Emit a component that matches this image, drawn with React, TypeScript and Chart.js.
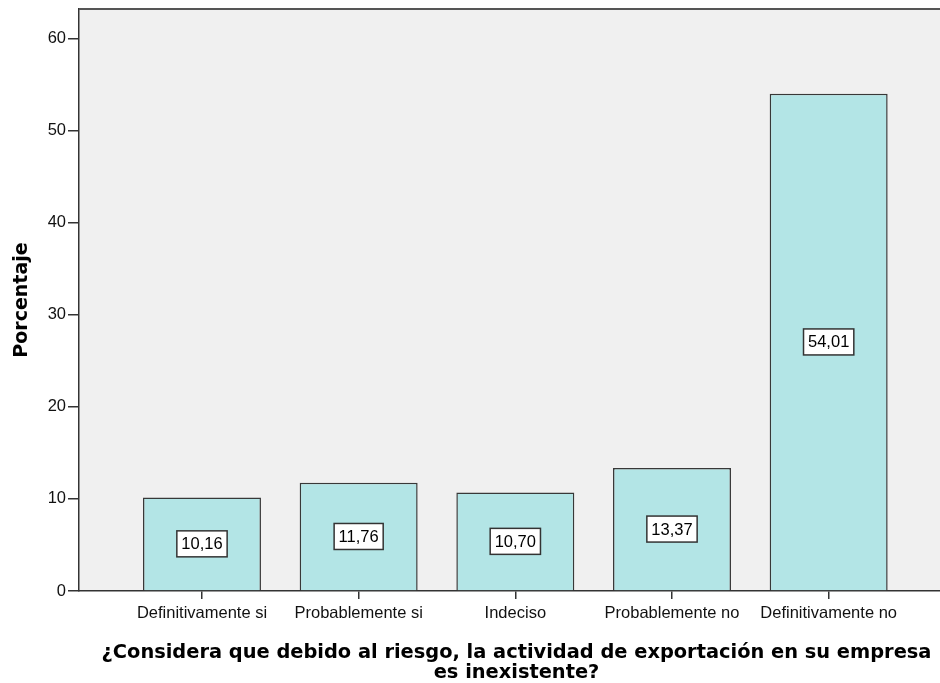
import React, { useEffect, useRef } from "react";
import { Chart, registerables } from "chart.js";

Chart.register(...registerables);

const categories = [
  "Definitivamente si",
  "Probablemente si",
  "Indeciso",
  "Probablemente no",
  "Definitivamente no",
];
const percentages = [10.16, 11.76, 10.7, 13.37, 54.01];
const yTicks = [0, 10, 20, 30, 40, 50, 60];
const xTitle = [
  "¿Considera que debido al riesgo, la actividad de exportación en su empresa",
  "es inexistente?",
];
const yTitle = "Porcentaje";

const CANVAS_W = 946;
const CANVAS_H = 675;

const plotPlugin = {
  id: "plotDecor",
  beforeDraw(chart: any) {
    const { ctx, chartArea } = chart;
    ctx.save();
    ctx.fillStyle = "#f0f0f0";
    ctx.fillRect(chartArea.left, chartArea.top, chartArea.right - chartArea.left, chartArea.bottom - chartArea.top);
    ctx.restore();
  },
  afterDraw(chart: any) {
    const { ctx, chartArea } = chart;
    ctx.save();
    ctx.strokeStyle = "#555555";
    ctx.lineWidth = 2;
    ctx.beginPath();
    ctx.moveTo(chartArea.left, chartArea.top);
    ctx.lineTo(chartArea.right, chartArea.top);
    ctx.stroke();
    ctx.restore();
  },
  afterDatasetsDraw(chart: any) {
    const { ctx } = chart;
    const meta = chart.getDatasetMeta(0);
    ctx.save();
    ctx.font = "16.5px 'Liberation Sans', Arial, sans-serif";
    ctx.textAlign = "center";
    ctx.textBaseline = "middle";
    meta.data.forEach((bar: any, i: number) => {
      const v = percentages[i];
      const text = v.toFixed(2).replace(".", ",");
      const cy = (bar.y + bar.base) / 2;
      const cx = bar.x;
      const w = ctx.measureText(text).width + 9;
      const h = 26;
      ctx.fillStyle = "#ffffff";
      ctx.fillRect(cx - w / 2, cy - h / 2, w, h);
      ctx.strokeStyle = "#333333";
      ctx.lineWidth = 1.5;
      ctx.strokeRect(cx - w / 2, cy - h / 2, w, h);
      ctx.fillStyle = "#000000";
      ctx.fillText(text, cx, cy + 1);
    });
    ctx.restore();
  },
};

export default function App() {
  const ref = useRef<HTMLCanvasElement | null>(null);

  useEffect(() => {
    if (!ref.current) return;
    const chart = new Chart(ref.current, {
      type: "bar",
      data: {
        datasets: [
          {
            data: categories.map((c, i) => ({ x: i, y: percentages[i] })),
            backgroundColor: "#b3e5e6",
            borderColor: "#383838",
            borderWidth: 1.5,
            categoryPercentage: 1,
            barPercentage: 0.753,
          },
        ],
      },
      options: {
        responsive: false,
        animation: false,
        devicePixelRatio: 1,
        layout: { padding: { top: 1, left: 0, right: 0, bottom: 0 } },
        plugins: {
          legend: { display: false },
          tooltip: { enabled: false },
        },
        scales: {
          x: {
            type: "linear",
            offset: false,
            min: -0.785,
            max: 4.8,
            afterBuildTicks: (scale: any) => {
              scale.ticks = categories.map((c, i) => ({ value: i }));
            },
            afterFit: (scale: any) => {
              scale.height = 92;
              scale.paddingLeft = 0;
              scale.paddingRight = 0;
            },
            grid: {
              offset: false,
              drawOnChartArea: false,
              drawTicks: true,
              tickLength: 8,
              color: "#333333",
              lineWidth: 1.5,
            },
            border: { display: true, color: "#333333", width: 1.5 },
            ticks: {
              autoSkip: false,
              maxRotation: 0,
              minRotation: 0,
              padding: 5,
              color: "#111111",
              font: { family: "'Liberation Sans', Arial, sans-serif", size: 16.5 },
              callback: (v: any) => categories[v as number] ?? "",
            },
            title: {
              display: true,
              text: xTitle,
              color: "#000000",
              font: { family: "'DejaVu Sans', sans-serif", size: 19.4, weight: "bold", lineHeight: "20px" },
              padding: { top: 0, bottom: 0 },
            },
          },
          y: {
            min: 0,
            max: 63.2,
            afterBuildTicks: (scale: any) => {
              scale.ticks = yTicks.map((v) => ({ value: v }));
            },
            afterFit: (scale: any) => {
              scale.width = 71;
              scale.paddingTop = 0;
              scale.paddingBottom = 0;
            },
            grid: {
              drawOnChartArea: false,
              drawTicks: true,
              tickLength: 11,
              color: "#333333",
              lineWidth: 1.5,
            },
            border: { display: true, color: "#333333", width: 1.5 },
            ticks: {
              padding: 2,
              color: "#111111",
              font: { family: "'Liberation Sans', Arial, sans-serif", size: 16.5 },
            },
            title: {
              display: true,
              text: yTitle,
              color: "#000000",
              font: { family: "'DejaVu Sans', sans-serif", size: 19, weight: "bold" },
              padding: { top: 3, bottom: 0 },
            },
          },
        },
      },
      plugins: [plotPlugin],
    } as any);
    return () => chart.destroy();
  }, []);

  return (
    <div
      style={{
        position: "fixed",
        left: 8,
        top: 8,
        width: 932,
        height: CANVAS_H,
        overflow: "hidden",
        background: "#ffffff",
      }}
    >
      <canvas ref={ref} width={CANVAS_W} height={CANVAS_H} style={{ display: "block" }} />
    </div>
  );
}
